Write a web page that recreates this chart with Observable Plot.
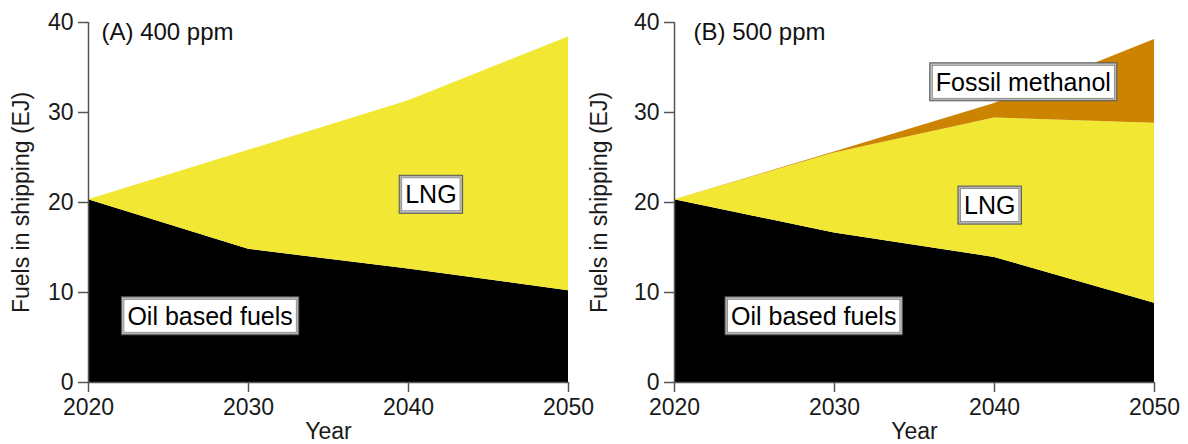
<!DOCTYPE html>
<html>
<head>
<meta charset="utf-8">
<script src="https://cdn.jsdelivr.net/npm/d3@7"></script>
<script src="https://cdn.jsdelivr.net/npm/@observablehq/plot@0.6"></script>
<style>
  html, body { margin: 0; padding: 0; background: #fff; }
  #row { display: flex; width: 1188px; height: 444px; overflow: hidden; }
  #row svg { flex: none; }
</style>
</head>
<body>
<div id="row"></div>
<script>
// Fuel use in international shipping (EJ) by scenario
const years = [2020, 2030, 2040, 2050];
const fuels = ["Oil based fuels", "LNG", "Fossil methanol"];
const fuelColors = ["#000000", "#f2e833", "#cc8400"];

// (A) 400 ppm scenario
const oil400 = [20.3, 14.8, 12.6, 10.2];
const lng400 = [0.0, 11.0, 18.7, 28.2];

// (B) 500 ppm scenario
const oil500 = [20.3, 16.6, 13.9, 8.8];
const lng500 = [0.0, 8.9, 15.5, 20.0];
const methanol500 = [0.0, 0.1, 1.6, 9.3];

const yTicks = [0, 10, 20, 30, 40];
const xTicks = [2020, 2030, 2040, 2050];
const titles = ["(A) 400 ppm", "(B) 500 ppm"];
const yLabel = "Fuels in shipping (EJ)";
const xLabel = "Year";

// In-chart series labels, placed at (year, EJ)
const labelText400 = ["Oil based fuels", "LNG"];
const labelYear400 = [2027.6, 2041.4];
const labelValue400 = [7.3, 20.8];
const labelText500 = ["Oil based fuels", "LNG", "Fossil methanol"];
const labelYear500 = [2028.7, 2039.7, 2041.8];
const labelValue500 = [7.3, 19.6, 33.3];

const FONT = "'Liberation Sans', Arial, Helvetica, sans-serif";

function toRows(series) {
  const rows = [];
  for (const [fuel, values] of series) {
    years.forEach((year, i) => rows.push({year, fuel, value: values[i]}));
  }
  return rows;
}

function panel({series, title, texts, labelYears, labelValues, marginLeft, marginRight, titleDx, yLabelOffset}) {
  const rows = toRows(series);
  const labels = texts.map((text, i) => ({text, year: labelYears[i], value: labelValues[i]}));
  return Plot.plot({
    width: 594,
    height: 444,
    marginLeft,
    marginRight,
    marginTop: 22,
    marginBottom: 62,
    style: {fontFamily: FONT, fontSize: "23px", background: "#fff", overflow: "visible"},
    x: {domain: [2020, 2050]},
    y: {domain: [0, 40]},
    color: {domain: fuels, range: fuelColors},
    marks: [
      Plot.areaY(rows, {x: "year", y: "value", fill: "fuel"}),
      Plot.ruleX([2020], {stroke: "#555", strokeWidth: 1.5}),
      Plot.ruleY([0], {stroke: "#555", strokeWidth: 1.5}),
      Plot.axisY(yTicks, {
        tickSize: 10, tickPadding: 5, stroke: "#555", strokeWidth: 1.5, fill: "#1a1a1a",
        fontSize: 23,
        label: yLabel, labelAnchor: "center", labelArrow: false, labelOffset: yLabelOffset
      }),
      Plot.axisX(xTicks, {
        tickSize: 10, tickPadding: 6, stroke: "#555", strokeWidth: 1.5, fill: "#1a1a1a",
        fontSize: 23, tickFormat: "d",
        label: xLabel, labelAnchor: "center", labelArrow: false, labelOffset: 56
      }),
      Plot.text([title], {
        frameAnchor: "top-left", textAnchor: "start", lineAnchor: "top",
        dx: titleDx, dy: 0, fontSize: 24, fill: "#111"
      }),
      Plot.text(labels, {
        x: "year", y: "value", text: "text", fontSize: 25, fill: "#000",
        ariaDescription: "fuel label"
      })
    ]
  });
}

const row = document.getElementById("row");
const plotA = panel({
  series: [[fuels[0], oil400], [fuels[1], lng400]],
  title: titles[0], texts: labelText400, labelYears: labelYear400, labelValues: labelValue400,
  marginLeft: 88, marginRight: 26, titleDx: 13, yLabelOffset: 76
});
const plotB = panel({
  series: [[fuels[0], oil500], [fuels[1], lng500], [fuels[2], methanol500]],
  title: titles[1], texts: labelText500, labelYears: labelYear500, labelValues: labelValue500,
  marginLeft: 80, marginRight: 34, titleDx: 19, yLabelOffset: 84
});
row.append(plotA, plotB);

// Framed white boxes behind the series labels
const NS = "http://www.w3.org/2000/svg";
let groups = [...document.querySelectorAll('g[aria-description="fuel label"]')];
if (!groups.length) {
  // fall back to the last text group of each chart
  groups = [plotA, plotB].map(svg => {
    const gs = svg.querySelectorAll('g[aria-label="text"]');
    return gs[gs.length - 1];
  }).filter(Boolean);
}
for (const g of groups) {
  for (const t of g.querySelectorAll("text")) {
    const bb = t.getBBox();
    const padX = 5, padY = 4;
    const tr = t.getAttribute("transform");
    const mk = (inset, fill, stroke, width) => {
      const r = document.createElementNS(NS, "rect");
      r.setAttribute("x", bb.x - padX + inset);
      r.setAttribute("y", bb.y - padY + inset);
      r.setAttribute("width", bb.width + 2 * (padX - inset));
      r.setAttribute("height", bb.height + 2 * (padY - inset));
      r.setAttribute("fill", fill);
      r.setAttribute("stroke", stroke);
      r.setAttribute("stroke-width", width);
      if (tr) r.setAttribute("transform", tr);
      t.parentNode.insertBefore(r, t);
    };
    mk(0, "#fff", "#b4b4b4", 2);
    mk(-1, "none", "#555", 1);
    mk(1.5, "none", "#777", 0.8);
  }
}
</script>
</body>
</html>
